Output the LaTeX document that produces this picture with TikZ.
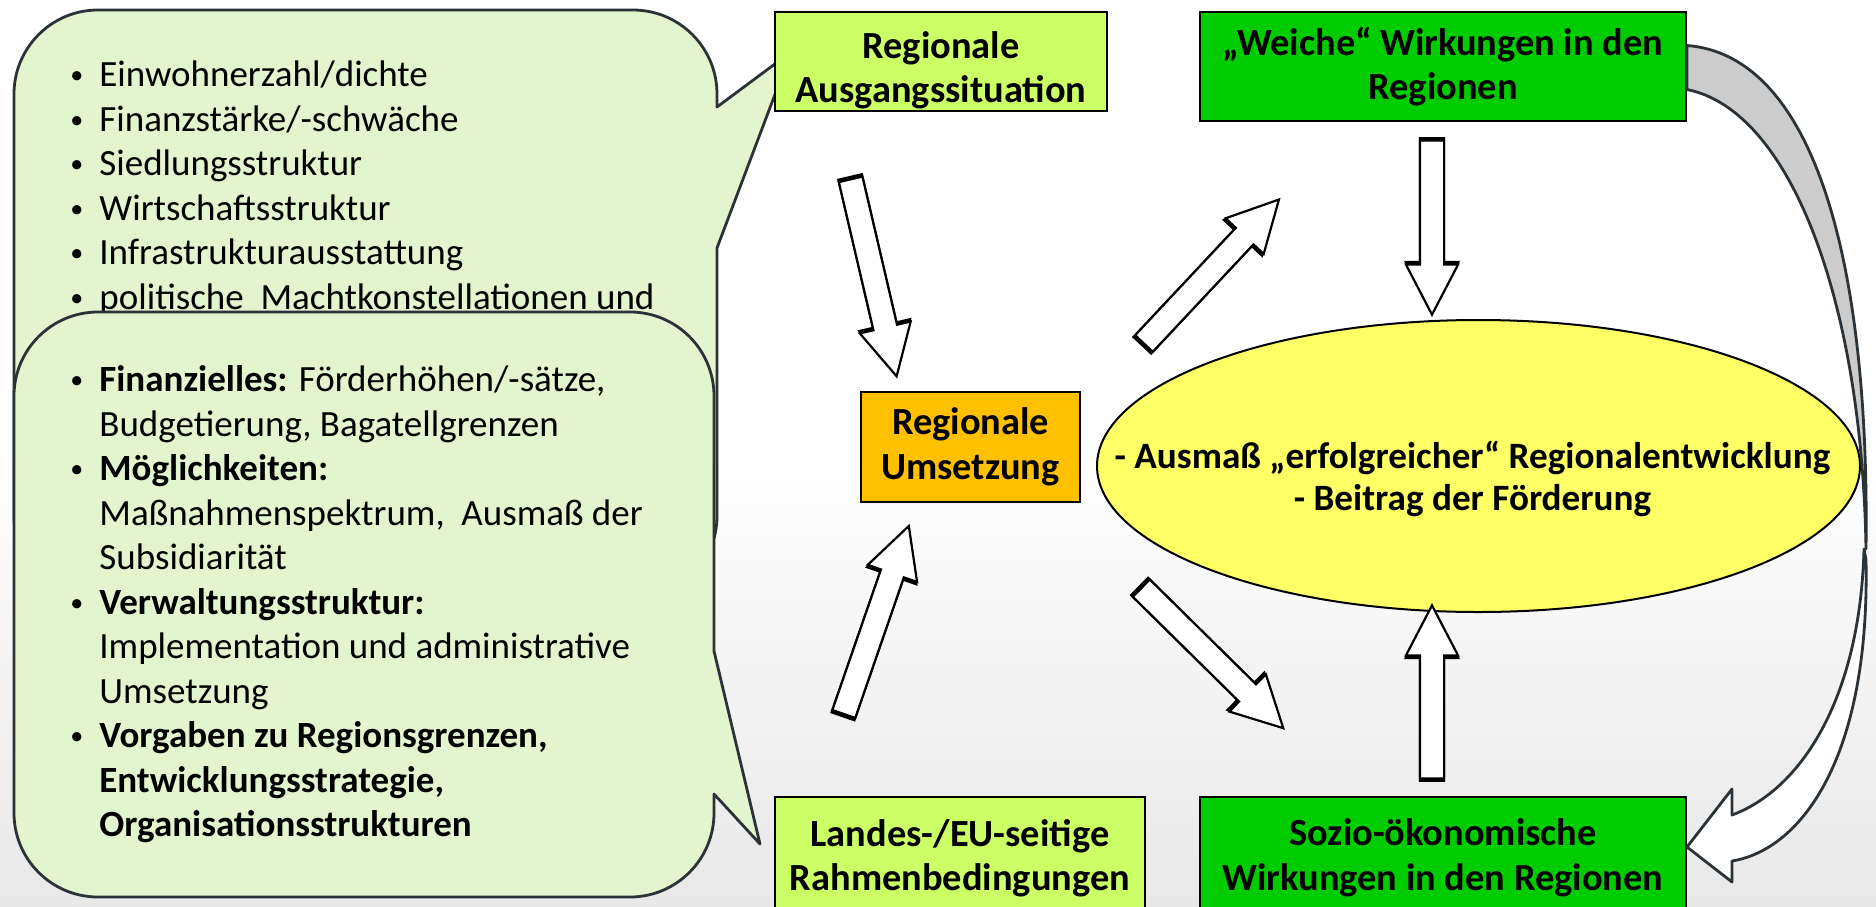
\documentclass[tikz,border=0pt]{standalone}
\usepackage{fontspec}
\setmainfont{Carlito}
\usetikzlibrary{shapes.geometric,shapes.arrows,calc}

\definecolor{bubblegreen}{HTML}{E3F5CE}
\definecolor{bubbleline}{HTML}{2B3338}
\definecolor{limebox}{HTML}{CCFF66}
\definecolor{greenbox}{HTML}{00CC00}
\definecolor{orangebox}{HTML}{FFC000}
\definecolor{ellyellow}{HTML}{FFFF66}
\definecolor{bandgray}{HTML}{CCCCCC}

\newcommand{\diafont}{\fontsize{18.5}{22.25}\selectfont}
\newcommand{\bul}{\llap{\raisebox{1.5pt}{\fontsize{13}{13}\selectfont\textbullet}\hspace{8pt}}}

\tikzset{
  box/.style={draw=black, line width=1pt, align=center, inner sep=0pt, font=\fontsize{19.2}{22.25}\selectfont\bfseries},
  bubble/.style={draw=bubbleline, fill=bubblegreen, line width=1.4pt, line join=round},
  bubbletext/.style={anchor=north west, align=left, inner sep=0pt},
  blockarrow/.style={single arrow, draw=black, fill=white, line width=1.1pt, inner xsep=0pt, inner ysep=5.5pt,
    single arrow head extend=7pt, single arrow tip angle=55, minimum width=25pt},
  band/.style={draw=bubbleline, line width=1.4pt, line join=round},
}

\begin{document}
\begin{tikzpicture}[x=0.5pt, y=-0.5pt, font=\diafont]
\useasboundingbox (0,0) rectangle (1876,906);
\clip (0,0) rectangle (1876,906);
\fill[white] (0,0) rectangle (1876,906);
\shade[top color=white, bottom color=black!9] (0,450) rectangle (1876,906);

% Sprechblasen
\draw[bubble, rounded corners=42pt] (14,300) -- (14,10) -- (717,10) [sharp corners] -- (717,107) -- (791,52) -- (717,248)
  [rounded corners=42pt] -- (717,600) -- (14,600) -- cycle;
\node[bubbletext] (lage) at (99,55) {\strut\bul Einwohnerzahl/dichte\\
  \bul Finanzstärke/-schwäche\\
  \bul Siedlungsstruktur\\
  \bul Wirtschaftsstruktur\\
  \bul Infrastrukturausstattung\\
  \bul politische\ \ Machtkonstellationen und};

\draw[bubble, rounded corners=42pt] (14,600) -- (14,312) -- (714,312) [sharp corners] -- (714,651) -- (760,844) -- (714,794)
  [rounded corners=42pt] -- (714,897) -- (14,897) -- cycle;
\node[bubbletext] (rahmen) at (99,360) {\strut\bul\textbf{Finanzielles:} Förderhöhen/-sätze,\\
  Budgetierung, Bagatellgrenzen\\
  \bul\textbf{Möglichkeiten:}\\
  Maßnahmenspektrum,\ \ Ausmaß der\\
  Subsidiarität\\
  \bul\textbf{Verwaltungsstruktur:}\\
  Implementation und administrative\\
  Umsetzung\\
  \bul\textbf{Vorgaben zu Regionsgrenzen,}\\
  \textbf{Entwicklungsstrategie,}\\
  \textbf{Organisationsstrukturen}};

% Kaesten
\node[box, fill=limebox, minimum width=166pt, minimum height=49.5pt] (ra) at (941,61.5) {\rule{0pt}{22pt}Regionale\\Ausgangssituation};
\node[box, fill=greenbox, minimum width=243pt, minimum height=54.5pt] (ww) at (1443,66.5) {„Weiche“ Wirkungen in den\\Regionen};
\node[box, fill=orangebox, minimum width=109.5pt, minimum height=55pt] (ru) at (970.5,447) {Regionale\\Umsetzung};
\node[box, fill=limebox, minimum width=185pt, minimum height=61pt] (le) at (960,858) {Landes-/EU-seitige\\Rahmenbedingungen};
\node[box, fill=greenbox, minimum width=243pt, minimum height=61pt] (so) at (1443,858) {Sozio-ökonomische\\Wirkungen in den Regionen};

\node[ellipse, draw=black, fill=ellyellow, line width=1pt, minimum width=381.5pt, minimum height=146pt,
  inner sep=0pt] (erfolg) at (1478.5,466) {};
\node[align=center, font=\fontsize{18.6}{21}\selectfont\bfseries] (ziel) at ([shift={(-6,13)}]erfolg.center)
  {- Ausmaß „erfolgreicher“ Regionalentwicklung\\- Beitrag der Förderung};

% Blockpfeile
\coordinate (a1) at (848,168);  \coordinate (b1) at (894,365);
\coordinate (a2) at (1136,352); \coordinate (b2) at (1271,208);
\coordinate (a3) at (1432,129); \coordinate (b3) at (1432,303);
\coordinate (a4) at (1133,580); \coordinate (b4) at (1275,720);
\coordinate (a5) at (840,725);  \coordinate (b5) at (905,537);
\coordinate (a6) at (1432,790); \coordinate (b6) at (1432,617);
\foreach \s/\e in {a1/b1,a2/b2,a3/b3,a4/b4,a5/b5,a6/b6}{
  \path let \p1=($(\e)-(\s)$), \n1={atan2(\y1,\x1)}, \n2={veclen(\x1,\y1)} in
    node[blockarrow, fill=black, minimum height=\n2, rotate=\n1, xshift=-1.2pt] (schatten-\s) at ($(\s)!0.5!(\e)$) {}
    node[blockarrow, minimum height=\n2, rotate=\n1] (pfeil-\s) at ($(\s)!0.5!(\e)$) {};
}

% gebogener Pfeil
\filldraw[band, fill=bandgray] ($(ww.east)+(0,-21)$) .. controls (1810,55) and (1870,250) .. (1866,549)
  .. controls (1862,300) and (1790,110) .. ($(ww.east)+(0,23)$) -- cycle;
\filldraw[band, fill=white] (1864,549) .. controls (1860,700) and (1800,790) .. (1732,815) -- (1732,789)
  -- ($(so.east)+(0,-11)$) -- (1732,882) -- (1732,861) .. controls (1800,850) and (1870,760) .. (1866,560) -- cycle;
\end{tikzpicture}
\end{document}
